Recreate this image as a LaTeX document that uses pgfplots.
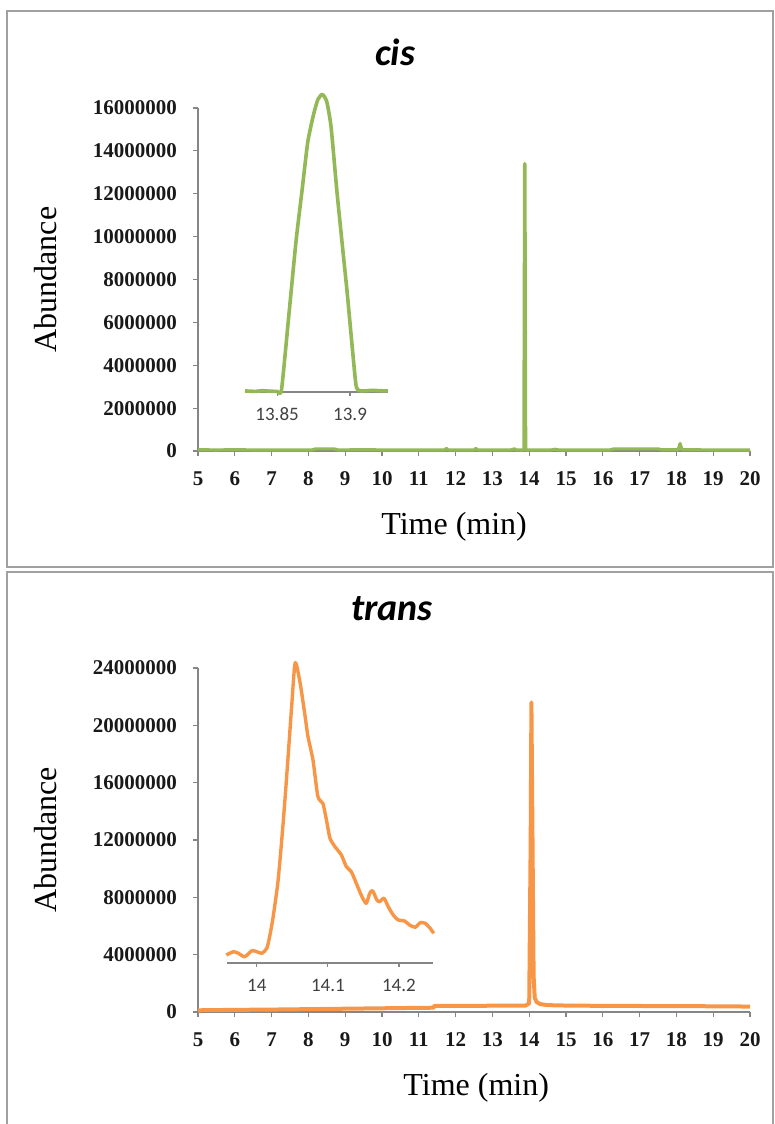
\documentclass[border=0pt]{standalone}
\usepackage{fontspec}
\setmainfont{Liberation Serif}
\newfontfamily\calibri{Carlito}
\usepackage{pgfplots}
\pgfplotsset{compat=1.18}

\definecolor{cisgreen}{HTML}{92B955}
\definecolor{transorange}{HTML}{F79646}
\definecolor{axgray}{HTML}{868686}
\definecolor{framegray}{HTML}{A0A0A0}

\pgfplotsset{
  mainax/.style={
    scale only axis, width=276pt, anchor=south west,
    xmin=5, xmax=20, ymin=0,
    axis x line=bottom, axis y line=left,
    axis line style={-, axgray, line width=0.6pt},
    tick align=outside, major tick length=2.5pt,
    tick style={axgray, line width=0.6pt},
    xtick={5,6,7,8,9,10,11,12,13,14,15,16,17,18,19,20},
    scaled y ticks=false,
    ticklabel style={font=\bfseries\fontsize{10.5}{12}\selectfont, text=black!90},
    xticklabel style={text height=7pt, text depth=0pt},
    /pgf/number format/assume math mode=true,
    xticklabel shift=4pt, yticklabel shift=4.5pt,
    clip=false,
    xlabel={Time (min)}, ylabel={Abundance},
    label style={font=\fontsize{16}{19}\selectfont},
    ylabel style={at={(axis description cs:-0.277,0.5)}, anchor=center},
  },
  inset/.style={
    scale only axis, anchor=south west,
    axis x line=bottom, axis y line=none,
    axis line style={-, axgray, line width=0.6pt},
    tick align=outside, major tick length=2pt,
    tick style={axgray, line width=0.6pt},
    ytick=\empty,
    ticklabel style={font=\calibri\fontsize{9.5}{11}\selectfont, text=black!75},
    xticklabel style={text height=7pt, text depth=0pt},
    xticklabel shift=1.5pt,
    clip=false,
  },
}

\begin{document}
\begin{tikzpicture}
\useasboundingbox (0,0) rectangle (387.5pt,-562pt);
\clip (0,0) rectangle (387.5pt,-562pt);

% panel frames
\draw[framegray, line width=0.8pt] (3.5pt,-5.5pt) rectangle (386.5pt,-283.5pt);
\draw[framegray, line width=0.8pt] (3.5pt,-286pt) rectangle (386.5pt,-570pt);

\node[anchor=base, font=\calibri\bfseries\itshape\fontsize{19}{22}\selectfont] at (197.5pt,-32.5pt) {cis};
\node[anchor=base, font=\calibri\bfseries\itshape\fontsize{19}{22}\selectfont] at (196pt,-310pt) {trans};

% ---------- cis ----------
\begin{axis}[mainax, at={(99pt,-225.5pt)}, height=171.5pt,
    ymax=16000000,
    ytick={0,2000000,4000000,6000000,8000000,10000000,12000000,14000000,16000000},
    yticklabels={0,2000000,4000000,6000000,8000000,10000000,12000000,14000000,16000000},
    xlabel style={at={(axis description cs:0.464,-0.2216)}, anchor=center},
]
\addplot[cisgreen, line width=1.6pt, line join=round] coordinates {
 (5,60000) (5.5,50000) (6,60000) (6.5,50000) (7,50000) (7.5,50000) (8.1,50000)
 (8.2,100000) (8.7,100000) (8.8,50000) (9.6,60000) (10,50000) (11,50000)
 (11.7,50000) (11.75,120000) (11.8,50000) (12.5,50000) (12.55,120000) (12.6,50000)
 (13.5,50000) (13.6,100000) (13.65,50000) (13.855,50000) (13.875,13400000)
 (13.885,13400000) (13.905,50000) (14.6,50000) (14.7,80000) (14.8,50000)
 (16.2,50000) (16.3,100000) (17.5,100000) (17.6,60000) (18.05,60000)
 (18.1,350000) (18.15,60000) (19,50000) (20,50000)
};
\end{axis}

\begin{axis}[inset, at={(122.5pt,-196pt)}, width=71.5pt, height=152pt,
    xmin=13.828, xmax=13.926, ymin=2750000, ymax=16930000,
    xtick={13.85,13.9}, xticklabels={13.85,13.9},
]
\addplot[cisgreen, line width=1.8pt, line join=round, smooth, tension=0.35] coordinates {
 (13.828,2800000) (13.835,2780000) (13.84,2810000) (13.845,2790000) (13.85,2780000)
 (13.853,2850000) (13.858,6300000) (13.863,9800000) (13.867,12100000)
 (13.871,14400000) (13.875,15700000) (13.878,16400000) (13.881,16630000)
 (13.884,16300000) (13.887,15100000) (13.891,12100000) (13.895,9400000)
 (13.898,7400000) (13.901,5200000) (13.904,3100000) (13.906,2820000)
 (13.91,2800000) (13.915,2830000) (13.92,2810000) (13.926,2800000)
};
\end{axis}

% ---------- trans ----------
\begin{axis}[mainax, at={(99pt,-506pt)}, height=172pt,
    ymax=24000000,
    ytick={0,4000000,8000000,12000000,16000000,20000000,24000000},
    yticklabels={0,4000000,8000000,12000000,16000000,20000000,24000000},
    xlabel style={at={(axis description cs:0.504,-0.221)}, anchor=center},
]
\addplot[transorange, line width=2pt, line join=round] coordinates {
 (5,120000) (6,150000) (7,170000) (8,200000) (9,230000) (10,260000) (11,290000)
 (11.4,300000) (11.42,420000) (12,420000) (13,440000) (13.9,450000) (14,600000)
 (14.04,12000000) (14.06,21600000) (14.09,12000000) (14.12,2500000)
 (14.15,1000000) (14.2,700000) (14.3,550000) (14.5,480000) (15,450000)
 (16,430000) (17,420000) (18,410000) (19,400000) (20,380000)
};
\end{axis}

\begin{axis}[inset, at={(113.5pt,-481.5pt)}, width=103pt, height=156.5pt,
    xmin=13.958, xmax=14.248, ymin=3430000, ymax=25330000,
    xtick={14,14.1,14.2}, xticklabels={14,14.1,14.2},
]
\addplot[transorange, line width=1.7pt, line join=round, smooth, tension=0.4] coordinates {
 (13.957,3990000) (13.967,4220000) (13.974,4110000) (13.983,3870000)
 (13.993,4290000) (14.000,4220000) (14.007,4110000) (14.014,4460000)
 (14.018,5270000) (14.023,6670000) (14.030,9240000) (14.037,13200000)
 (14.043,17170000) (14.049,21370000) (14.054,24440000) (14.061,23000000)
 (14.068,20670000) (14.072,19270000) (14.079,17640000) (14.086,15070000)
 (14.093,14600000) (14.098,13440000) (14.103,12160000) (14.110,11570000)
 (14.119,10990000) (14.126,10170000) (14.133,9820000) (14.140,9010000)
 (14.148,8070000) (14.154,7610000) (14.159,8310000) (14.163,8490000)
 (14.169,7840000) (14.173,7720000) (14.179,7960000) (14.185,7370000)
 (14.192,6790000) (14.199,6440000) (14.208,6370000) (14.215,6090000)
 (14.223,5930000) (14.230,6250000) (14.237,6210000) (14.244,5860000)
 (14.249,5510000)
};
\end{axis}
\end{tikzpicture}
\end{document}
